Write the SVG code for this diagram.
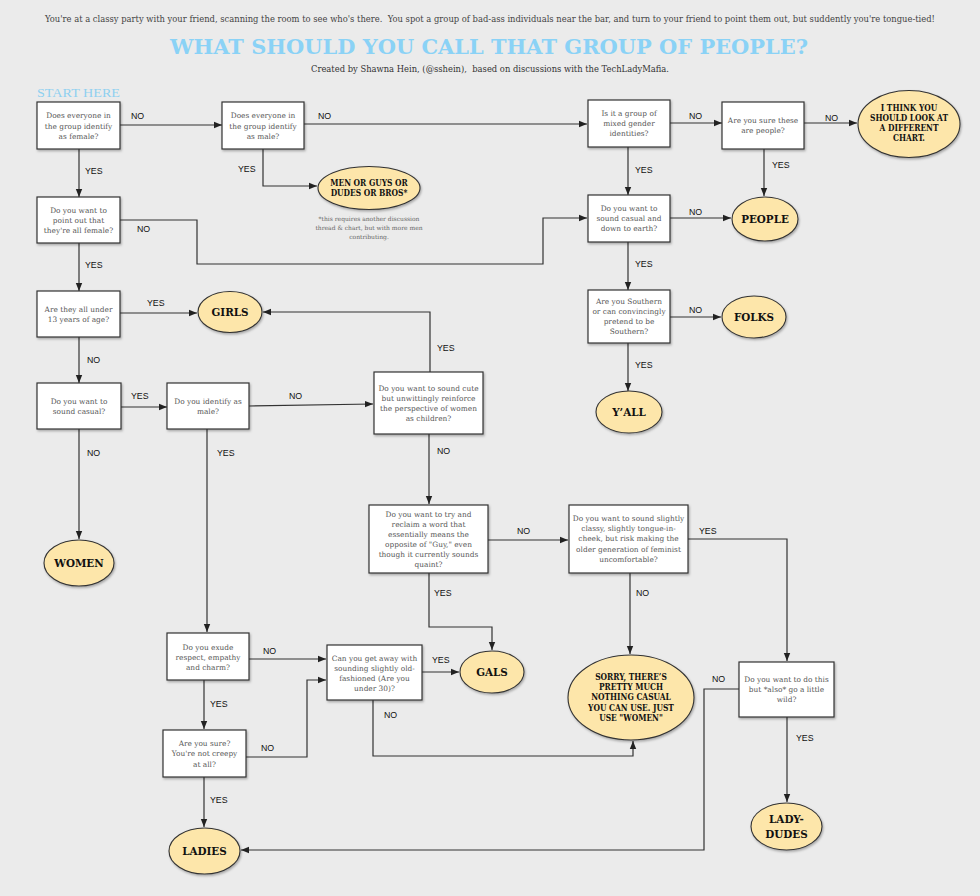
<svg xmlns="http://www.w3.org/2000/svg" width="980" height="896" viewBox="0 0 980 896">
<defs>
<filter id="sh" x="-10%" y="-10%" width="125%" height="130%">
<feDropShadow dx="1" dy="1.5" stdDeviation="1.2" flood-color="#000" flood-opacity="0.3"/>
</filter>
<marker id="ar" viewBox="0 0 8 8" markerWidth="8" markerHeight="8" refX="8" refY="4" orient="auto" markerUnits="userSpaceOnUse">
<path d="M0,0.8 L8,4 L0,7.2 z" fill="#222"/>
</marker>
<style>
.box{fill:#fff;stroke:#333;stroke-width:1.2;filter:url(#sh)}
.ell{fill:#fde6aa;stroke:#333;stroke-width:1.1;filter:url(#sh)}
.q{font-family:'DejaVu Serif',serif;font-size:7.4px;fill:#555;text-anchor:middle}
.a{font-family:'DejaVu Serif Condensed','DejaVu Serif',serif;font-weight:bold;font-stretch:condensed;fill:#111;text-anchor:middle}
.big{font-size:11.5px}
.sm{font-size:8.3px}
.lbl{font-family:'Liberation Sans',Arial,sans-serif;font-size:8.8px;fill:#111}
.c{fill:none;stroke:#333;stroke-width:1.2;marker-end:url(#ar)}
</style>
</defs>
<rect width="980" height="896" fill="#ebebeb"/>

<g id="header">
<text x="45" y="22" font-family="'DejaVu Serif',serif" font-size="8.5" fill="#444" textLength="890" lengthAdjust="spacingAndGlyphs">You're at a classy party with your friend, scanning the room to see who's there.&#160; You spot a group of bad-ass individuals near the bar, and turn to your friend to point them out, but suddently you're tongue-tied!</text>
<text x="170" y="54" font-family="'DejaVu Serif',serif" font-weight="bold" font-size="21" fill="#8ad2f6" textLength="638" lengthAdjust="spacingAndGlyphs">WHAT SHOULD YOU CALL THAT GROUP OF PEOPLE?</text>
<text x="311" y="72" font-family="'DejaVu Serif',serif" font-size="8.5" fill="#333" textLength="358" lengthAdjust="spacingAndGlyphs">Created by Shawna Hein, (@sshein),&#160; based on discussions with the TechLadyMafia.</text>
<text x="37" y="97" font-family="'Liberation Serif',serif" font-size="13" fill="#8fd0f0" textLength="83" lengthAdjust="spacingAndGlyphs">START HERE</text>
</g>

<g id="connectors">
<path class="c" d="M120,125 H222"/>
<path class="c" d="M304,124 H587"/>
<path class="c" d="M670,123 H722"/>
<path class="c" d="M804,123 H857"/>
<path class="c" d="M263,149 V186 H317"/>
<path class="c" d="M79,149 V197"/>
<path class="c" d="M120,220 H197 V264 H543 V218 H587"/>
<path class="c" d="M628,147 V195"/>
<path class="c" d="M764,149 V196"/>
<path class="c" d="M670,218 H731"/>
<path class="c" d="M628,242 V290"/>
<path class="c" d="M670,317 H721"/>
<path class="c" d="M628,343 V391"/>
<path class="c" d="M79,243 V291"/>
<path class="c" d="M120,313 H197"/>
<path class="c" d="M430,372 V312 H263"/>
<path class="c" d="M79,337 V383"/>
<path class="c" d="M121,407 H167"/>
<path class="c" d="M249,406 L373,404"/>
<path class="c" d="M79,429 V539"/>
<path class="c" d="M207,429 V632"/>
<path class="c" d="M429,434 V504"/>
<path class="c" d="M488,540 H568"/>
<path class="c" d="M688,539 H787 V661"/>
<path class="c" d="M429,573 V627 H492 V650"/>
<path class="c" d="M630,573 V654"/>
<path class="c" d="M249,659 H326"/>
<path class="c" d="M422,672 H459"/>
<path class="c" d="M204,680 V729"/>
<path class="c" d="M246,757 H307 V680 H326"/>
<path class="c" d="M373,700 V756 H633 V741"/>
<path class="c" d="M204,777 V827"/>
<path class="c" d="M739,689 H704 V850 H241"/>
<path class="c" d="M787,717 V802"/>
</g>

<g id="labels">
<text class="lbl" x="131" y="119">NO</text>
<text class="lbl" x="318" y="119">NO</text>
<text class="lbl" x="238" y="172">YES</text>
<text class="lbl" x="85" y="174">YES</text>
<text class="lbl" x="137" y="232">NO</text>
<text class="lbl" x="85" y="268">YES</text>
<text class="lbl" x="689" y="119">NO</text>
<text class="lbl" x="825" y="121">NO</text>
<text class="lbl" x="635" y="173">YES</text>
<text class="lbl" x="772" y="168">YES</text>
<text class="lbl" x="689" y="215">NO</text>
<text class="lbl" x="635" y="267">YES</text>
<text class="lbl" x="689" y="313">NO</text>
<text class="lbl" x="635" y="368">YES</text>
<text class="lbl" x="147" y="306">YES</text>
<text class="lbl" x="437" y="351">YES</text>
<text class="lbl" x="87" y="363">NO</text>
<text class="lbl" x="131" y="399">YES</text>
<text class="lbl" x="289" y="399">NO</text>
<text class="lbl" x="87" y="456">NO</text>
<text class="lbl" x="217" y="456">YES</text>
<text class="lbl" x="437" y="454">NO</text>
<text class="lbl" x="517" y="534">NO</text>
<text class="lbl" x="699" y="534">YES</text>
<text class="lbl" x="434" y="596">YES</text>
<text class="lbl" x="636" y="596">NO</text>
<text class="lbl" x="263" y="654">NO</text>
<text class="lbl" x="432" y="663">YES</text>
<text class="lbl" x="210" y="707">YES</text>
<text class="lbl" x="384" y="718">NO</text>
<text class="lbl" x="261" y="751">NO</text>
<text class="lbl" x="210" y="803">YES</text>
<text class="lbl" x="712" y="682">NO</text>
<text class="lbl" x="796" y="741">YES</text>
</g>

<g id="q-female">
<rect class="box" x="37" y="102" width="83" height="47"/>
<text class="q" x="78.5" y="118">Does everyone in</text>
<text class="q" x="78.5" y="128.5">the group identify</text>
<text class="q" x="78.5" y="139">as female?</text>
</g>
<g id="q-male">
<rect class="box" x="222" y="102" width="82" height="47"/>
<text class="q" x="263" y="118">Does everyone in</text>
<text class="q" x="263" y="128.5">the group identify</text>
<text class="q" x="263" y="139">as male?</text>
</g>
<g id="a-men">
<ellipse class="ell" cx="369" cy="188" rx="51" ry="21.5"/>
<text class="a sm" x="369" y="186">MEN OR GUYS OR</text>
<text class="a sm" x="369" y="196">DUDES OR BROS*</text>
</g>
<g id="footnote">
<text class="q" x="369" y="221" style="font-size:6px;fill:#666">*this requires another discussion</text>
<text class="q" x="369" y="230" style="font-size:6px;fill:#666">thread &amp; chart, but with more men</text>
<text class="q" x="369" y="239" style="font-size:6px;fill:#666">contributing.</text>
</g>
<g id="q-mixed">
<rect class="box" x="588" y="100" width="82" height="47"/>
<text class="q" x="629" y="116">Is it a group of</text>
<text class="q" x="629" y="126">mixed gender</text>
<text class="q" x="629" y="136">identities?</text>
</g>
<g id="q-people">
<rect class="box" x="722" y="102" width="82" height="47"/>
<text class="q" x="763" y="123">Are you sure these</text>
<text class="q" x="763" y="133">are people?</text>
</g>
<g id="a-chart">
<ellipse class="ell" cx="909" cy="124" rx="51" ry="33.5"/>
<text class="a sm" x="909" y="111">I THINK YOU</text>
<text class="a sm" x="909" y="121">SHOULD LOOK AT</text>
<text class="a sm" x="909" y="131">A DIFFERENT</text>
<text class="a sm" x="909" y="141">CHART.</text>
</g>
<g id="q-allfemale">
<rect class="box" x="37" y="197" width="83" height="46"/>
<text class="q" x="78.5" y="212.5">Do you want to</text>
<text class="q" x="78.5" y="222.5">point out that</text>
<text class="q" x="78.5" y="232.5">they're all female?</text>
</g>
<g id="q-earth">
<rect class="box" x="588" y="195" width="82" height="47"/>
<text class="q" x="629" y="211">Do you want to</text>
<text class="q" x="629" y="221">sound casual and</text>
<text class="q" x="629" y="231">down to earth?</text>
</g>
<g id="a-people">
<ellipse class="ell" cx="765" cy="219" rx="33" ry="22"/>
<text class="a big" x="765" y="223">PEOPLE</text>
</g>
<g id="q-southern">
<rect class="box" x="588" y="290" width="82" height="53"/>
<text class="q" x="629" y="304">Are you Southern</text>
<text class="q" x="629" y="314">or can convincingly</text>
<text class="q" x="629" y="324">pretend to be</text>
<text class="q" x="629" y="334">Southern?</text>
</g>
<g id="a-folks">
<ellipse class="ell" cx="754" cy="317" rx="32" ry="21"/>
<text class="a big" x="754" y="321">FOLKS</text>
</g>
<g id="a-yall">
<ellipse class="ell" cx="629" cy="412" rx="33" ry="21"/>
<text class="a big" x="629" y="416">Y’ALL</text>
</g>
<g id="q-under13">
<rect class="box" x="37" y="291" width="83" height="46"/>
<text class="q" x="78.5" y="311.5">Are they all under</text>
<text class="q" x="78.5" y="321.5">13 years of age?</text>
</g>
<g id="a-girls">
<ellipse class="ell" cx="230" cy="312" rx="32" ry="20.5"/>
<text class="a big" x="230" y="316">GIRLS</text>
</g>
<g id="q-casual">
<rect class="box" x="37" y="383" width="84" height="46"/>
<text class="q" x="79" y="404">Do you want to</text>
<text class="q" x="79" y="414">sound casual?</text>
</g>
<g id="q-identmale">
<rect class="box" x="167" y="383" width="82" height="46"/>
<text class="q" x="208" y="404">Do you identify as</text>
<text class="q" x="208" y="414">male?</text>
</g>
<g id="q-cute">
<rect class="box" x="374" y="372" width="109" height="62"/>
<text class="q" x="428.5" y="391">Do you want to sound cute</text>
<text class="q" x="428.5" y="401">but unwittingly reinforce</text>
<text class="q" x="428.5" y="411">the perspective of women</text>
<text class="q" x="428.5" y="421">as children?</text>
</g>
<g id="a-women">
<ellipse class="ell" cx="79" cy="563" rx="35" ry="23"/>
<text class="a big" x="79" y="567">WOMEN</text>
</g>
<g id="q-reclaim">
<rect class="box" x="369" y="505" width="119" height="68"/>
<text class="q" x="428.5" y="517">Do you want to try and</text>
<text class="q" x="428.5" y="527">reclaim a word that</text>
<text class="q" x="428.5" y="537">essentially means the</text>
<text class="q" x="428.5" y="547">opposite of "Guy," even</text>
<text class="q" x="428.5" y="557">though it currently sounds</text>
<text class="q" x="428.5" y="567">quaint?</text>
</g>
<g id="q-classy">
<rect class="box" x="569" y="505" width="119" height="68"/>
<text class="q" x="628.5" y="521">Do you want to sound slightly</text>
<text class="q" x="628.5" y="531.2">classy, slightly tongue-in-</text>
<text class="q" x="628.5" y="541.4">cheek, but risk making the</text>
<text class="q" x="628.5" y="551.6">older generation of feminist</text>
<text class="q" x="628.5" y="561.8">uncomfortable?</text>
</g>
<g id="q-exude">
<rect class="box" x="167" y="633" width="82" height="47"/>
<text class="q" x="208" y="649.5">Do you exude</text>
<text class="q" x="208" y="659.5">respect, empathy</text>
<text class="q" x="208" y="669.5">and charm?</text>
</g>
<g id="q-oldfashioned">
<rect class="box" x="327" y="645" width="95" height="55"/>
<text class="q" x="374.5" y="660.5">Can you get away with</text>
<text class="q" x="374.5" y="670.8">sounding slightly old-</text>
<text class="q" x="374.5" y="681.1">fashioned (Are you</text>
<text class="q" x="374.5" y="691.4">under 30)?</text>
</g>
<g id="a-gals">
<ellipse class="ell" cx="492" cy="672" rx="32" ry="21"/>
<text class="a big" x="492" y="676">GALS</text>
</g>
<g id="a-sorry">
<ellipse class="ell" cx="631" cy="697.5" rx="63" ry="42.5"/>
<text class="a sm" x="631" y="680">SORRY, THERE’S</text>
<text class="a sm" x="631" y="690.2">PRETTY MUCH</text>
<text class="a sm" x="631" y="700.4">NOTHING CASUAL</text>
<text class="a sm" x="631" y="710.6">YOU CAN USE. JUST</text>
<text class="a sm" x="631" y="720.8">USE "WOMEN"</text>
</g>
<g id="q-wild">
<rect class="box" x="739" y="662" width="95" height="55"/>
<text class="q" x="786.5" y="681.5">Do you want to do this</text>
<text class="q" x="786.5" y="691.5">but *also* go a little</text>
<text class="q" x="786.5" y="701.5">wild?</text>
</g>
<g id="q-creepy">
<rect class="box" x="163" y="730" width="83" height="47"/>
<text class="q" x="204.5" y="746">Are you sure?</text>
<text class="q" x="204.5" y="756.3">You're not creepy</text>
<text class="q" x="204.5" y="766.6">at all?</text>
</g>
<g id="a-ladies">
<ellipse class="ell" cx="204.5" cy="851" rx="35.5" ry="23"/>
<text class="a big" x="204.5" y="855">LADIES</text>
</g>
<g id="a-ladydudes">
<ellipse class="ell" cx="786.5" cy="826.5" rx="35.5" ry="23.5"/>
<text class="a big" x="786.5" y="823">LADY-</text>
<text class="a big" x="786.5" y="838">DUDES</text>
</g>
</svg>
